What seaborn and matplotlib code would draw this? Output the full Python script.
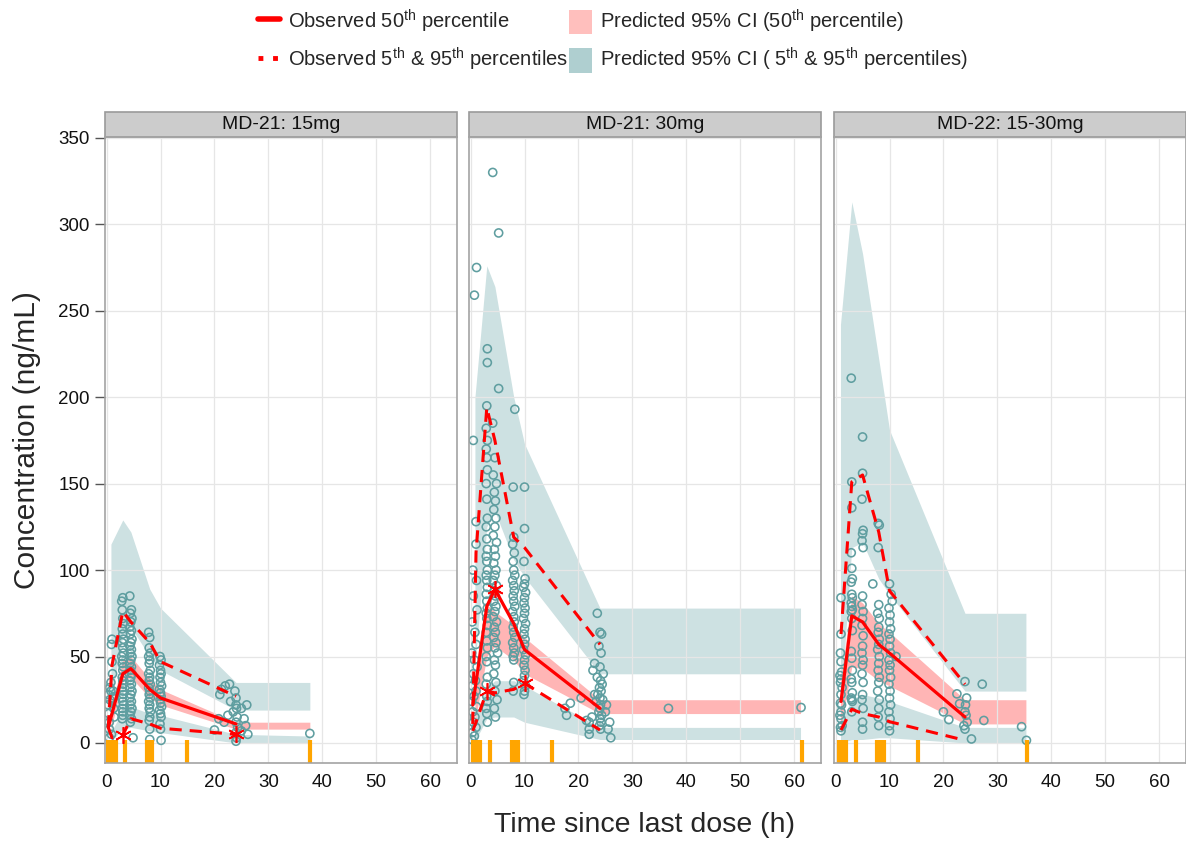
import numpy as np
import pandas as pd
import seaborn as sns
import matplotlib.pyplot as plt
from matplotlib.lines import Line2D
from matplotlib.patches import Patch, Rectangle

sns.set_theme(style="whitegrid")
plt.rcParams['font.family'] = ['Liberation Sans', 'DejaVu Sans']
plt.rcParams['mathtext.fontset'] = 'custom'
plt.rcParams['mathtext.rm'] = 'Liberation Sans'
plt.rcParams['mathtext.it'] = 'Liberation Sans:italic'
plt.rcParams['mathtext.bf'] = 'Liberation Sans:bold'

panel_titles = ["MD-21: 15mg", "MD-21: 30mg", "MD-22: 15-30mg"]

# observed concentrations (time h, conc ng/mL)
p1_obs = [
    (0.3, 28), (0.3, 22), (0.4, 17), (0.5, 12), (0.5, 8), (0.6, 25), (0.6, 32), (0.8, 35), (0.8, 30),
    (1.0, 60), (0.9, 57), (1.0, 47), (1.1, 40), (1.2, 30), (1.2, 26), (1.3, 20), (1.4, 15), (0.9, 5), (0.5, 3), (1.5, 27),
    (3.0, 84), (2.8, 82), (2.9, 77), (3.0, 72), (3.1, 69), (2.9, 66), (3.0, 63), (3.1, 60), (2.9, 58), (3.0, 55),
    (3.1, 52), (2.8, 50), (3.0, 48), (2.9, 46), (3.1, 44), (3.0, 42), (2.9, 38), (3.0, 36), (3.1, 34), (2.9, 32),
    (3.0, 30), (3.1, 28), (2.9, 26), (3.0, 24), (3.1, 22), (2.9, 20), (3.0, 18), (3.0, 16), (2.9, 14),
    (4.3, 85), (4.6, 77), (4.4, 75), (4.7, 72), (4.5, 70), (4.3, 67), (4.6, 65), (4.4, 63), (4.7, 60), (4.5, 58),
    (4.3, 56), (4.6, 54), (4.4, 52), (4.7, 50), (4.5, 48), (4.3, 46), (4.6, 44), (4.4, 42), (4.7, 40), (4.5, 38),
    (4.3, 36), (4.6, 34), (4.4, 32), (4.7, 30), (4.5, 28), (4.3, 26), (4.6, 24), (4.4, 22), (4.7, 20), (4.5, 18),
    (4.3, 16), (4.6, 14), (4.4, 12), (4.9, 3),
    (7.8, 64), (8.0, 61), (7.9, 55), (8.1, 52), (7.8, 50), (8.0, 48), (7.9, 46), (8.1, 42), (7.8, 40), (8.0, 38),
    (7.9, 36), (8.1, 34), (7.8, 32), (8.0, 30), (7.9, 28), (8.1, 26), (7.8, 24), (8.0, 22), (7.9, 20), (8.1, 18),
    (8.0, 15), (7.9, 13), (8.0, 8), (8.0, 2),
    (9.9, 50), (10.1, 48), (9.8, 45), (10.0, 42), (10.1, 40), (9.9, 38), (10.0, 35), (10.2, 33), (9.8, 31), (10.0, 29),
    (10.1, 27), (9.9, 25), (10.0, 23), (10.2, 21), (9.8, 19), (10.0, 17), (10.1, 15), (9.9, 11), (10.0, 8), (10.1, 1.5),
    (20.0, 7.5), (20.8, 14), (21.0, 28), (21.3, 31), (21.8, 12), (22.0, 33), (22.5, 16), (22.8, 34), (23.0, 24), (23.5, 18),
    (23.8, 30), (24.0, 26), (24.0, 22), (24.1, 20), (24.2, 15), (24.0, 12), (24.3, 9), (24.0, 6), (24.1, 3), (24.0, 1),
    (25.0, 20), (25.5, 14), (26.0, 22), (25.8, 10), (26.2, 5), (25.0, 7),
    (37.7, 5.5),
]
p2_obs = [
    (0.7, 259), (1.1, 275), (0.5, 175), (1.0, 128), (1.0, 115), (0.4, 100), (1.1, 94), (0.5, 85), (1.2, 77), (0.3, 70),
    (0.8, 64), (1.0, 57), (0.2, 52), (0.7, 48), (1.2, 44), (0.5, 40), (0.9, 36), (0.3, 33), (1.0, 30), (0.6, 27),
    (0.2, 24), (1.1, 21), (0.4, 18), (0.8, 15), (0.5, 12), (1.0, 9), (0.3, 6), (0.7, 4), (0.2, 2),
    (3.1, 228), (3.1, 220), (3.0, 195), (2.9, 182), (3.1, 175), (2.9, 170), (3.0, 165), (3.1, 158), (2.9, 150), (3.0, 141),
    (3.1, 130), (2.9, 125), (3.0, 118), (3.1, 112), (2.9, 108), (3.0, 105), (3.1, 100), (2.9, 97), (3.0, 94), (3.1, 90),
    (2.9, 86), (3.0, 82), (3.1, 78), (2.9, 75), (3.0, 72), (3.1, 68), (2.9, 64), (3.0, 59), (3.1, 55), (2.9, 50),
    (3.0, 47), (3.1, 38), (2.9, 34), (3.0, 27), (3.1, 24), (2.9, 20), (3.0, 17), (3.1, 12),
    (4.1, 330), (5.2, 295), (5.2, 205), (4.1, 185), (4.5, 165), (4.2, 155), (4.8, 150), (4.4, 145), (4.6, 140), (4.3, 135),
    (4.7, 130), (4.5, 125), (4.2, 120), (4.8, 116), (4.4, 112), (4.6, 108), (4.3, 104), (4.7, 100), (4.5, 97), (4.2, 94),
    (4.8, 91), (4.4, 88), (4.6, 85), (4.3, 82), (4.7, 79), (4.5, 76), (4.2, 73), (4.8, 70), (4.4, 67), (4.6, 64),
    (4.3, 61), (4.7, 58), (4.5, 55), (5.0, 52), (4.4, 48), (4.6, 45), (4.3, 40), (4.7, 35), (4.5, 30), (4.9, 25),
    (4.4, 20), (4.6, 15),
    (8.2, 193), (7.9, 148), (8.0, 119), (7.8, 115), (8.1, 110), (7.9, 105), (8.0, 100), (8.2, 97), (7.8, 94), (8.0, 91),
    (8.1, 88), (7.9, 85), (8.0, 82), (8.2, 79), (7.8, 76), (8.0, 73), (8.1, 70), (7.9, 67), (8.0, 64), (8.2, 61),
    (7.8, 58), (8.0, 55), (8.1, 52), (7.9, 50), (8.0, 48), (8.0, 35), (7.9, 30),
    (10.0, 148), (10.0, 124), (9.9, 105), (10.1, 95), (10.0, 92), (9.8, 90), (10.2, 87), (10.0, 84), (9.9, 81), (10.1, 78),
    (10.0, 75), (9.8, 72), (10.2, 69), (10.0, 66), (9.9, 63), (10.1, 60), (10.0, 57), (9.8, 54), (10.2, 51), (10.0, 48),
    (9.9, 45), (10.1, 42), (10.0, 39), (9.8, 36), (10.2, 33), (10.0, 30), (9.9, 28),
    (17.5, 20), (17.8, 16), (18.5, 23), (20.5, 26), (21.5, 13), (22.0, 8),
    (23.5, 75), (24.0, 64), (24.3, 63), (23.8, 56), (24.2, 52), (23.0, 46), (24.0, 44), (22.7, 42), (23.5, 38), (24.1, 36),
    (24.4, 34), (23.9, 32), (24.2, 30), (23.6, 28), (24.0, 26), (24.5, 25), (23.3, 24), (24.1, 22), (24.0, 20), (23.8, 18),
    (24.3, 16), (24.0, 14), (24.2, 12), (23.9, 10), (24.1, 8), (22.5, 15), (22.0, 12), (25.0, 18), (25.2, 22), (25.8, 12),
    (25.5, 8), (26.0, 3), (22.0, 5), (23.0, 28), (24.6, 40),
    (36.7, 20), (61.3, 20.5),
]
p3_obs = [
    (1.0, 84), (1.0, 63), (0.9, 52), (1.0, 47), (1.1, 41), (0.8, 39), (1.0, 37), (0.9, 35), (1.2, 32), (1.0, 28),
    (0.9, 23), (1.1, 22), (1.0, 18), (0.8, 16), (1.0, 14), (1.2, 10), (0.9, 9), (1.0, 7),
    (2.9, 211), (3.0, 151), (3.0, 136), (2.9, 110), (3.0, 101), (3.1, 95), (2.9, 93), (3.0, 86), (3.1, 84), (2.9, 81),
    (3.0, 79), (3.1, 77), (2.9, 76), (3.0, 72), (3.1, 65), (2.9, 53), (3.0, 49), (3.1, 42), (2.9, 37), (3.0, 35),
    (3.1, 29), (2.9, 26), (3.0, 25), (3.1, 24), (3.0, 18),
    (5.0, 177), (5.0, 156), (4.9, 141), (5.1, 123), (5.0, 121), (4.9, 117), (5.1, 113), (5.0, 85), (4.9, 80), (5.1, 76),
    (5.0, 72), (4.9, 68), (5.1, 62), (5.0, 56), (4.9, 52), (5.1, 48), (5.0, 45), (4.9, 40), (5.1, 35), (5.0, 28),
    (4.9, 25), (5.1, 20), (5.0, 12), (5.0, 8),
    (7.9, 127), (8.1, 126), (7.9, 113), (6.9, 92), (8.0, 80), (7.8, 75), (8.1, 72), (8.0, 67), (7.9, 64), (8.1, 60),
    (8.0, 57), (7.8, 54), (8.1, 50), (8.0, 46), (7.9, 42), (8.1, 38), (8.0, 35), (7.8, 30), (8.1, 25), (8.0, 20),
    (7.9, 15), (8.0, 10),
    (10.0, 92), (10.3, 86), (10.5, 82), (9.9, 78), (10.1, 74), (10.0, 70), (10.2, 66), (9.9, 63), (10.1, 60), (10.0, 56),
    (10.2, 52), (9.9, 48), (10.1, 45), (10.0, 42), (10.2, 38), (9.9, 34), (10.1, 30), (10.0, 26), (10.2, 22), (9.9, 18),
    (10.1, 14), (10.0, 10), (10.0, 7), (11.2, 50),
    (20.0, 18), (21.0, 13.5), (22.5, 28.4), (23.0, 22.7), (24.0, 35.5), (24.1, 22), (24.3, 26), (24.0, 18), (24.2, 16), (23.8, 10),
    (24.0, 8), (24.4, 12), (25.2, 2.3), (27.2, 34), (27.5, 13), (34.5, 9.4), (35.4, 1.5),
]

# predicted 95% CI bands at bin times
p1_bin = [0.8, 3, 4.5, 8, 10, 24, 37.7]
p1_hi_up = [115, 129, 122, 89, 78, 35, 35]
p1_hi_lo = [25, 62, 67, 50, 42, 19, 19]
p1_med_up = [20, 48, 50, 37, 31, 12, 12]
p1_med_lo = [8, 36, 38, 26, 22, 8, 8]
p1_lo_up = [6, 19, 21, 17, 16, 5, 4]
p1_lo_lo = [1, 8, 9, 7, 6, 0, 0]

p2_bin = [0.8, 3, 4.5, 8, 10, 24, 61.2]
p2_hi_up = [200, 276, 264, 200, 173, 78, 78]
p2_hi_lo = [45, 125, 134, 106, 96, 40, 40]
p2_med_up = [35, 80, 76, 68, 61, 25, 25]
p2_med_lo = [12, 50, 56, 48, 40, 17, 17]
p2_lo_up = [14, 32, 36, 36, 33, 9, 9]
p2_lo_lo = [1, 14, 15, 15, 12, 2, 2]

p3_bin = [0.9, 3, 5, 8, 10, 24, 35.3]
p3_hi_up = [242, 313, 283, 222, 181, 75, 75]
p3_hi_lo = [20, 113, 116, 95, 86, 30, 30]
p3_med_up = [35, 85, 81, 69, 64, 25, 25]
p3_med_lo = [8, 44, 43, 36, 33, 11, 11]
p3_lo_up = [12, 25, 28, 26, 24, 9, 9]
p3_lo_lo = [0, 2, 2, 3, 3, 0, 0]

# observed percentiles
p1_px = [0.3, 1, 3, 4.5, 8, 10, 24]
p1_p50 = [9, 17, 40, 43, 31, 26, 11]
p1_p95 = [9, 45, 76, 70, 58, 47, 27]
p1_p5 = [9, 3, 4.5, 14, 11, 8.5, 5]
p1_star_x = [3, 24]
p1_star_y = [4.5, 5]

p2_px = [0.4, 1, 3, 4.5, 8, 10, 24]
p2_p50 = [22, 35, 79, 89, 69, 54, 20]
p2_p95 = [11, 110, 194, 175, 119, 113, 57]
p2_p5 = [7, 12, 30, 29, 31, 34.5, 7.5]
p2_star_x = [3, 4.5, 10]
p2_star_y = [30, 89, 34.5]

p3_px = [1, 3, 5, 8, 10, 24]
p3_p50 = [24, 73.5, 70, 57, 52, 15]
p3_p95 = [63, 151, 155, 122, 88, 34]
p3_p5 = [7.5, 19.5, 17, 15, 12.3, 1.5]
p3_star_x = []
p3_star_y = []

# bin edges shown as rug
p1_rug = [0.3, 0.7, 1.2, 1.7, 3.4, 7.4, 7.8, 8.5, 14.9, 37.7]
p2_rug = [0.5, 0.9, 1.4, 1.8, 3.6, 7.6, 8.0, 8.8, 15.1, 61.4]
p3_rug = [0.7, 1.1, 1.5, 1.9, 3.7, 7.6, 8.1, 8.5, 8.9, 15.2, 35.5]

panels = [
    dict(obs=p1_obs, bin=p1_bin, bands=(p1_hi_lo, p1_hi_up, p1_med_lo, p1_med_up, p1_lo_lo, p1_lo_up),
         px=p1_px, p50=p1_p50, p95=p1_p95, p5=p1_p5, sx=p1_star_x, sy=p1_star_y, rug=p1_rug),
    dict(obs=p2_obs, bin=p2_bin, bands=(p2_hi_lo, p2_hi_up, p2_med_lo, p2_med_up, p2_lo_lo, p2_lo_up),
         px=p2_px, p50=p2_p50, p95=p2_p95, p5=p2_p5, sx=p2_star_x, sy=p2_star_y, rug=p2_rug),
    dict(obs=p3_obs, bin=p3_bin, bands=(p3_hi_lo, p3_hi_up, p3_med_lo, p3_med_up, p3_lo_lo, p3_lo_up),
         px=p3_px, p50=p3_p50, p95=p3_p95, p5=p3_p5, sx=p3_star_x, sy=p3_star_y, rug=p3_rug),
]

teal_band = '#cde1e2'
pink_band = '#ffb5b5'
point_col = '#5f9ea0'

W, H = 1186, 843
fig = plt.figure(figsize=(W / 100, H / 100), dpi=100)
lefts = [105, 469, 834]

for i, p in enumerate(panels):
    ax = fig.add_axes([lefts[i] / W, 80 / H, 352 / W, 626 / H])
    hl, hu, ml, mu, ll, lu = p['bands']
    ax.fill_between(p['bin'], hl, hu, color=teal_band, lw=0, zorder=1)
    ax.fill_between(p['bin'], ll, lu, color=teal_band, lw=0, zorder=1)
    ax.fill_between(p['bin'], ml, mu, color=pink_band, lw=0, zorder=1.5)

    df = pd.DataFrame(p['obs'], columns=['time', 'conc'])
    sns.scatterplot(data=df, x='time', y='conc', ax=ax, marker='o', s=34,
                    facecolors='none', edgecolor=point_col, linewidth=1.15, zorder=3)

    sns.lineplot(x=p['px'], y=p['p50'], ax=ax, color='red', lw=2.3, sort=False,
                 estimator=None, zorder=4)
    sns.lineplot(x=p['px'], y=p['p95'], ax=ax, color='red', lw=2.2, sort=False,
                 estimator=None, ls=(0, (4, 2.6)), zorder=4)
    sns.lineplot(x=p['px'], y=p['p5'], ax=ax, color='red', lw=2.2, sort=False,
                 estimator=None, ls=(0, (4, 2.6)), zorder=4)
    if p['sx']:
        ax.plot(p['sx'], p['sy'], ls='none', marker=(6, 2, 0), ms=12, mew=1.2,
                color='red', zorder=5)

    ax.vlines(p['rug'], -11.6, 1.5, color='#ffa500', lw=3.0, zorder=3)

    ax.set_xlim(-0.3, 65)
    ax.set_ylim(-11.6, 350.5)
    ax.set_xticks([0, 10, 20, 30, 40, 50, 60])
    ax.set_yticks([0, 50, 100, 150, 200, 250, 300, 350])
    ax.grid(True, color='#e6e6e6', lw=0.9, zorder=2.5)
    ax.set_axisbelow(False)
    for s in ax.spines.values():
        s.set_color('#a3a3a3')
        s.set_linewidth(1.2)
        s.set_zorder(6)
    ax.set_xlabel('')
    ax.set_ylabel('')
    ax.tick_params(axis='x', length=0, pad=8, labelsize=13.5, labelcolor='#111111')
    if i == 0:
        ax.tick_params(axis='y', length=7, width=1, color='#555555', pad=4,
                       labelsize=13.5, labelcolor='#111111', left=True)
    else:
        ax.tick_params(axis='y', labelleft=False, length=0)

    # strip header
    ax.add_patch(Rectangle((0, 1.0), 1, 25 / 626, transform=ax.transAxes, clip_on=False,
                           fc='#cccccc', ec='#9a9a9a', lw=1.2, zorder=6))
    ax.text(0.5, 1.0 + 12.5 / 626, panel_titles[i], transform=ax.transAxes, ha='center',
            va='center', fontsize=14, color='#111111', zorder=7)

fig.text(645 / W, 1 - 825 / H, 'Time since last dose (h)', ha='center', va='center', fontsize=20.5)
fig.text(27 / W, 1 - 440 / H, 'Concentration (ng/mL)', ha='center', va='center',
         rotation=90, fontsize=21.5)

handles = [
    Line2D([], [], color='red', lw=4),
    Line2D([], [], color='red', lw=3.5, ls=(0, (1, 2))),
    Patch(fc='#ffbfbd', ec='none'),
    Patch(fc='#afcfd0', ec='none'),
]
labels = [
    r'Observed 50$^{\mathrm{th}}$ percentile',
    r'Observed 5$^{\mathrm{th}}$ & 95$^{\mathrm{th}}$ percentiles',
    r'Predicted 95% CI (50$^{\mathrm{th}}$ percentile)',
    r'Predicted 95% CI ( 5$^{\mathrm{th}}$ & 95$^{\mathrm{th}}$ percentiles)',
]
fig.legend(handles, labels, ncol=2, loc='upper left', bbox_to_anchor=(258 / W, 1 - 8 / H),
           frameon=False, fontsize=14.5, handlelength=1.1, handleheight=1.5,
           handletextpad=0.4, columnspacing=0.05, labelspacing=0.55, borderpad=0,
           borderaxespad=0)

fig.savefig('out.png', dpi=100, facecolor='white')
